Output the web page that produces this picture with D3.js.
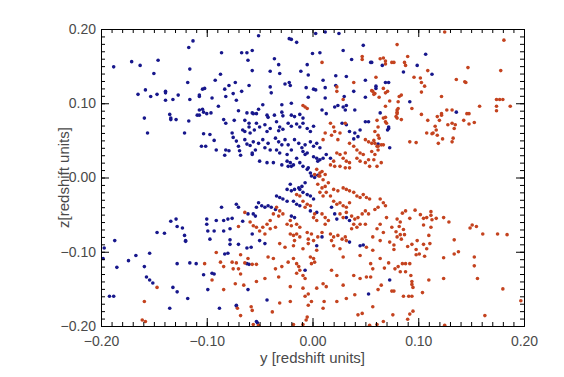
<!DOCTYPE html>
<html>
<head>
<meta charset="utf-8">
<script src="https://cdn.jsdelivr.net/npm/d3@7"></script>
<style>
body { margin: 0; background: #fff; }
svg text { font-family: "Liberation Sans", Arial, sans-serif; }
</style>
</head>
<body>
<div class="chart"></div>
<script>
var svgWidth = 564;
var svgHeight = 377;

var margin = {
  top: 29,
  right: 40,
  bottom: 51,
  left: 101
};

var width = svgWidth - margin.left - margin.right;
var height = svgHeight - margin.top - margin.bottom;

// axis ranges and labels
var yRange = [-0.2, 0.2];
var zRange = [-0.2, 0.2];
var majorTicks = [-0.2, -0.1, 0, 0.1, 0.2];
var minorTicks = d3.range(-20, 21).map(d => d / 100);
var xTitle = "y [redshift units]";
var yTitle = "z[redshift units]";

// [y, z] pairs
var bluePoints = [
  [-0.188,0.149],[-0.171,0.156],[-0.163,0.151],[-0.146,0.158],[-0.150,0.140],[-0.165,0.112],[-0.158,0.118],[-0.153,0.109],
  [-0.147,0.112],[-0.139,0.116],[-0.139,0.114],[-0.139,0.104],[-0.132,0.105],[-0.127,0.111],[-0.159,0.080],[-0.156,0.060],
  [-0.135,0.085],[-0.134,0.080],[-0.134,0.078],[-0.129,0.078],[-0.121,0.060],[-0.117,0.076],[-0.118,0.128],[-0.116,0.146],
  [-0.116,0.105],[-0.117,0.175],[-0.113,0.184],[-0.109,0.084],[-0.107,0.084],[-0.107,0.091],[-0.107,0.109],
  [-0.051,0.191],[-0.022,0.187],[-0.020,0.186],[-0.015,0.182],[0.003,0.194],[0.012,0.196],[0.025,0.194],[0.048,0.178],
  [-0.086,0.168],[-0.067,0.168],[-0.062,0.168],[-0.057,0.171],[-0.061,0.158],[-0.036,0.160],[0.000,0.167],[0.007,0.168],
  [0.029,0.171],[0.037,0.159],[0.055,0.155],[0.066,0.151],[-0.032,0.152],[-0.005,0.152],[-0.057,0.144],[-0.040,0.143],
  [-0.011,0.143],[-0.087,0.139],[-0.031,0.140],[-0.004,0.138],[0.022,0.137],[0.032,0.136],[-0.092,0.131],[0.010,0.131],
  [0.050,0.131],[-0.104,0.119],[-0.102,0.120],[-0.083,0.119],[-0.079,0.124],[-0.073,0.128],[-0.060,0.124],[-0.026,0.126],
  [-0.022,0.128],[-0.040,0.122],[-0.021,0.124],[-0.006,0.121],[0.001,0.119],[0.003,0.118],[0.012,0.121],[0.022,0.124],
  [0.039,0.116],[0.060,0.123],[0.069,0.128],[-0.107,0.111],[-0.095,0.107],[-0.082,0.109],[-0.072,0.104],[-0.075,0.113],
  [-0.067,0.116],[-0.039,0.114],[-0.004,0.108],[0.012,0.107],[0.030,0.109],[0.050,0.108],
  [-0.104,0.092],[-0.103,0.088],[-0.100,0.086],[-0.096,0.087],[-0.089,0.096],[-0.070,0.090],[-0.062,0.087],[-0.057,0.087],
  [-0.084,0.078],[-0.082,0.073],[-0.074,0.077],[-0.064,0.077],[-0.060,0.073],[-0.060,0.068],[-0.103,0.059],[-0.097,0.058],
  [-0.093,0.050],[-0.105,0.042],[-0.101,0.042],[-0.091,0.037],[-0.082,0.037],[-0.079,0.036],[-0.083,0.030],[-0.076,0.060],
  [-0.075,0.054],[-0.072,0.049],[-0.070,0.042],[-0.069,0.036],[-0.068,0.030],[-0.066,0.064],[-0.064,0.062],[-0.059,0.060],
  [-0.064,0.051],[-0.062,0.045],[-0.059,0.043],[-0.057,0.031],
  [-0.047,0.098],[-0.051,0.092],[-0.029,0.098],[-0.020,0.100],[-0.056,0.086],[-0.053,0.086],[-0.043,0.084],[-0.042,0.081],
  [-0.036,0.084],[-0.029,0.088],[-0.028,0.083],[-0.020,0.084],[-0.017,0.082],[-0.012,0.085],[-0.009,0.080],[-0.053,0.073],
  [-0.050,0.068],[-0.055,0.064],[-0.045,0.071],[-0.040,0.066],[-0.043,0.062],[-0.034,0.075],[-0.031,0.068],[-0.032,0.063],
  [-0.028,0.065],[-0.023,0.073],[-0.020,0.069],[-0.015,0.072],[-0.012,0.068],[-0.009,0.073],[-0.005,0.066],[-0.002,0.062],
  [0.001,0.069],[0.009,0.091],[0.013,0.086],[0.021,0.095],[0.024,0.097],[0.029,0.095],[0.032,0.097],[0.031,0.091],
  [0.040,0.091],[0.050,0.075],[0.053,0.075],[0.040,0.060],[0.043,0.055],[0.045,0.064],[-0.056,0.048],[-0.051,0.046],
  [-0.054,0.037],[-0.057,0.033],[-0.047,0.051],[-0.042,0.046],[-0.045,0.040],[-0.040,0.037],[-0.035,0.053],[-0.032,0.048],
  [-0.029,0.044],[-0.034,0.037],[-0.031,0.033],[-0.026,0.051],[-0.023,0.044],[-0.020,0.037],[-0.024,0.031],[-0.017,0.051],
  [-0.013,0.046],[-0.010,0.040],[-0.007,0.044],[-0.009,0.035],[-0.005,0.033],[-0.007,0.031],[-0.002,0.048],[0.001,0.042],
  [0.004,0.046],[0.007,0.040],[0.001,0.028],[0.004,0.026],[0.007,0.024],[0.010,0.026],[0.005,0.022],[-0.024,0.022],
  [-0.021,0.020],[-0.020,0.015],[-0.018,0.017],[-0.023,0.015],[-0.012,0.020],[-0.009,0.015],[-0.005,0.011],[-0.002,0.006],
  [-0.004,0.013],[-0.029,0.017],[-0.015,0.026],[-0.050,0.022],[-0.043,0.020],[-0.037,0.020],[0.013,0.031],[0.017,0.026],
  [0.035,0.062],[0.039,0.052],[0.073,0.040],[0.028,0.073],[0.032,0.071],
  [-0.001,0.002],[0.002,0.000],[0.005,0.003],[-0.007,-0.007],[-0.010,-0.012],[-0.013,-0.014],[-0.017,-0.016],[-0.020,-0.018],
  [-0.024,-0.016],[-0.012,-0.016],[-0.009,-0.020],[-0.005,-0.023],[-0.002,-0.025],[0.001,-0.029],[-0.021,-0.009],[-0.034,-0.025],
  [-0.031,-0.027],[-0.028,-0.029],[-0.024,-0.032],[-0.018,-0.032],[-0.015,-0.036],[-0.012,-0.038],[-0.051,-0.034],[-0.048,-0.038],
  [-0.053,-0.040],[-0.045,-0.040],[-0.042,-0.038],[-0.039,-0.040],[-0.035,-0.043],[-0.056,-0.049],[-0.054,-0.052],[-0.057,-0.076],
  [-0.050,-0.085],[-0.045,-0.089],[-0.020,-0.052],[-0.017,-0.054],[-0.002,-0.045],[0.004,-0.047],[0.018,-0.040],[0.021,-0.049],
  [0.023,-0.056],[0.009,-0.080],[0.004,-0.092],[0.035,-0.087],[0.045,-0.092],[0.032,-0.054],[0.035,-0.058],
  [0.056,0.155],[0.107,0.166],[0.099,0.151],[0.086,0.142],[0.113,0.139],[0.072,0.128],[0.060,0.120],[0.092,0.102],
  [0.064,0.087],[0.136,0.088],[0.072,0.068],[0.072,0.066],[0.071,0.064],[0.062,0.045],
  [-0.147,-0.074],[-0.140,-0.075],[-0.134,-0.059],[-0.129,-0.056],[-0.128,-0.066],[-0.123,-0.068],[-0.121,-0.078],[-0.120,-0.085],
  [-0.197,-0.095],[-0.198,-0.109],[-0.187,-0.085],[-0.185,-0.121],[-0.174,-0.112],[-0.167,-0.105],[-0.154,-0.102],[-0.159,-0.120],
  [-0.157,-0.134],[-0.154,-0.138],[-0.151,-0.142],[-0.192,-0.160],[-0.188,-0.160],[-0.135,-0.176],[-0.132,-0.148],[-0.128,-0.154],
  [-0.128,-0.116],[-0.116,-0.115],[-0.110,-0.116],[-0.118,-0.163],[-0.120,-0.086],[-0.103,-0.131],[-0.095,-0.129],[-0.093,-0.130],
  [-0.099,-0.151],[-0.088,-0.176],[-0.083,-0.103],[-0.080,-0.102],[-0.062,-0.116],[-0.060,-0.117],[-0.062,-0.095],[-0.058,-0.094],
  [-0.061,-0.151],[-0.072,-0.172],[-0.072,-0.173],[-0.053,-0.194],[-0.052,-0.196],[-0.070,-0.090],[-0.078,-0.090],
  [-0.086,-0.040],[-0.072,-0.036],[-0.070,-0.040],[-0.100,-0.056],[-0.100,-0.063],[-0.091,-0.058],[-0.084,-0.058],[-0.080,-0.056],
  [-0.076,-0.055],[-0.099,-0.072],[-0.093,-0.072],[-0.084,-0.072],[-0.078,-0.069],[-0.097,-0.083],[-0.078,-0.084],[-0.043,-0.165],
  [-0.007,-0.125],[0.048,-0.091],[0.053,-0.157],[0.073,-0.138],[-0.066,-0.059],[-0.061,-0.049]
];

var redPoints = [
  [0.009,0.155],[0.047,0.163],[0.047,0.159],[0.064,0.160],[0.067,0.161],[0.069,0.153],[0.039,0.128],[0.023,0.122],
  [0.023,0.116],[0.056,0.117],[0.059,0.113],[0.067,0.120],[0.069,0.114],[-0.007,0.095],[-0.005,0.093],[0.029,0.105],
  [0.125,0.196],[0.181,0.185],[0.080,0.179],[0.090,0.163],[0.087,0.155],[0.088,0.151],[0.077,0.155],[0.075,0.155],
  [0.069,0.157],[0.109,0.144],[0.096,0.135],[0.102,0.134],[0.103,0.128],[0.106,0.123],[0.103,0.115],[0.147,0.148],
  [0.178,0.144],[0.136,0.132],[0.144,0.129],[0.145,0.128],[0.060,0.135],[0.057,0.116],[0.058,0.112],[0.071,0.116],
  [0.063,0.108],[0.069,0.096],[0.073,0.103],[0.081,0.102],[0.084,0.111],[0.082,0.109],[0.080,0.091],[0.080,0.088],
  [0.079,0.082],[0.080,0.080],[0.084,0.078],[0.094,0.093],[0.103,0.085],[0.109,0.077],[0.118,0.082],[0.120,0.077],
  [0.122,0.086],[0.122,0.084],[0.127,0.091],[0.132,0.091],[0.122,0.109],[0.146,0.086],[0.148,0.086],[0.158,0.096],
  [0.174,0.105],[0.177,0.105],[0.180,0.105],[0.174,0.096],[0.174,0.090],[0.187,0.096],[0.143,0.077],[0.148,0.072],
  [0.153,0.074],[0.128,0.071],[0.132,0.073],[0.135,0.071],[0.134,0.066],[0.133,0.053],[0.132,0.048],[0.116,0.069],
  [0.117,0.064],[0.118,0.057],[0.114,0.060],[0.113,0.059],[0.108,0.060],[0.123,0.052],[0.119,0.046],[0.092,0.048],
  [0.098,0.047],[0.067,0.080],[0.069,0.075],[0.070,0.073],[0.062,0.068],[0.061,0.077],[0.059,0.062],[0.062,0.057],
  [0.063,0.053],[0.058,0.050],[0.067,0.044],[0.061,0.042],[0.056,0.035],[0.059,0.031],[0.062,0.037],[0.058,0.024],
  [-0.009,0.097],[0.017,0.073],[0.020,0.068],[0.021,0.062],[0.018,0.057],[0.031,0.073],[0.026,0.060],[0.024,0.051],
  [0.035,0.046],[0.039,0.042],[0.042,0.037],[0.045,0.033],[0.048,0.031],[0.050,0.051],[0.053,0.048],[0.056,0.046],
  [0.059,0.046],[0.062,0.042],[0.065,0.044],[0.080,0.086],[0.081,0.093],[0.023,0.033],[0.026,0.031],[0.029,0.026],
  [0.032,0.022],[0.035,0.020],[0.031,0.033],[0.042,0.026],[0.045,0.022],[0.050,0.020],[0.053,0.024],[0.020,0.022],
  [0.017,0.017],[0.021,0.015],[0.004,0.011],[0.007,0.006],[0.006,0.002],[0.009,0.008],[0.002,0.004],[0.026,0.015],
  [0.031,0.013],[0.035,0.013],[0.054,0.015],[0.061,0.015],[0.065,0.020],[0.012,0.060],[0.010,0.051],[0.069,0.081],
  [0.007,0.002],[0.010,-0.003],[0.012,0.004],[0.005,-0.009],[0.009,-0.014],[0.012,-0.012],[0.015,-0.007],[0.007,-0.020],
  [0.010,-0.025],[0.013,-0.020],[0.020,-0.016],[0.024,-0.018],[0.029,-0.014],[0.032,-0.016],[0.035,-0.018],[0.039,-0.020],
  [0.042,-0.025],[0.045,-0.027],[0.048,-0.023],[0.051,-0.027],[0.054,-0.029],[0.064,-0.029],[0.067,-0.034],[0.069,-0.038],
  [0.062,-0.040],[0.059,-0.043],[0.017,-0.025],[0.020,-0.032],[0.023,-0.036],[0.026,-0.034],[0.029,-0.038],[0.032,-0.040],
  [0.035,-0.034],[-0.015,-0.023],[-0.012,-0.025],[-0.009,-0.032],[-0.005,-0.036],[-0.002,-0.038],[-0.007,-0.040],[0.002,-0.049],
  [0.001,-0.054],[0.004,-0.058],[0.009,-0.049],[0.012,-0.054],[0.015,-0.058],[0.012,-0.063],[0.026,-0.049],[0.029,-0.054],
  [0.032,-0.047],[0.037,-0.052],[0.040,-0.056],[0.043,-0.054],[0.047,-0.049],[0.050,-0.045],[0.053,-0.049],[0.039,-0.063],
  [0.042,-0.067],[0.037,-0.069],[0.045,-0.063],[0.050,-0.063],[-0.034,-0.040],[-0.031,-0.045],[-0.028,-0.049],[-0.032,-0.052],
  [-0.037,-0.049],[-0.021,-0.058],[-0.024,-0.063],[-0.020,-0.065],[-0.015,-0.063],[-0.012,-0.067],[-0.040,-0.058],[-0.043,-0.063],
  [-0.047,-0.067],[-0.050,-0.072],[-0.045,-0.076],[-0.040,-0.069],[-0.035,-0.067],[-0.056,-0.065],[-0.053,-0.067],[-0.021,-0.076],
  [-0.018,-0.078],[-0.015,-0.076],[-0.012,-0.080],[-0.017,-0.085],[-0.005,-0.074],[-0.001,-0.076],[-0.004,-0.083],[0.001,-0.085],
  [0.005,-0.080],[0.009,-0.074],[0.017,-0.076],[0.020,-0.080],[0.018,-0.085],[0.024,-0.078],[0.028,-0.083],[0.031,-0.080],
  [0.032,-0.085],[0.061,-0.069],[0.064,-0.063],[0.067,-0.074],[0.057,-0.080],[0.070,-0.054],[0.075,-0.067],[0.080,-0.080],
  [0.073,-0.087],[-0.031,-0.089],[-0.026,-0.094],[-0.018,-0.092],[-0.009,-0.096],[-0.004,-0.089],[0.004,-0.098],[0.020,-0.092],
  [0.026,-0.096],[0.051,-0.094],[0.057,-0.098],
  [-0.076,-0.114],[-0.061,-0.109],[-0.084,-0.120],[-0.042,-0.107],[-0.037,-0.109],[-0.035,-0.123],[-0.029,-0.120],[-0.023,-0.114],
  [-0.018,-0.109],[-0.015,-0.116],[-0.013,-0.120],[-0.012,-0.125],[-0.015,-0.129],[-0.009,-0.132],[-0.007,-0.136],[-0.002,-0.107],
  [0.001,-0.109],[0.002,-0.114],[-0.001,-0.116],[-0.032,-0.134],[-0.045,-0.136],[-0.053,-0.140],[-0.073,-0.143],[-0.065,-0.145],
  [-0.021,-0.147],[-0.009,-0.149],[-0.004,-0.157],[0.004,-0.149],[0.013,-0.147],[0.010,-0.143],[0.018,-0.125],[0.023,-0.132],
  [0.029,-0.145],[0.039,-0.132],[0.045,-0.136],[0.051,-0.134],[0.057,-0.123],[-0.031,-0.169],[-0.021,-0.167],[-0.007,-0.160],
  [-0.005,-0.188],[-0.006,-0.192],[-0.018,-0.198],[-0.056,-0.198],[-0.051,-0.199],[0.043,-0.185],[0.047,-0.183],[0.057,-0.174],
  [0.067,-0.194],[0.061,-0.198],[0.023,-0.167],[0.032,-0.163],[0.040,-0.158],[0.065,-0.145],[0.029,-0.107],[0.045,-0.105],
  [0.064,-0.109],[-0.038,-0.181],[-0.009,-0.198],[-0.004,-0.172],[-0.001,-0.167],[0.011,-0.167],[0.010,-0.176],[0.054,-0.199],
  [0.125,-0.199],
  [0.085,-0.048],[0.088,-0.045],[0.092,-0.055],[0.097,-0.044],[0.102,-0.050],[0.105,-0.055],[0.108,-0.054],[0.112,-0.046],
  [0.112,-0.051],[0.113,-0.057],[0.117,-0.055],[0.124,-0.054],[0.129,-0.060],[0.105,-0.064],[0.080,-0.056],[0.083,-0.060],
  [0.082,-0.066],[0.086,-0.070],[0.079,-0.073],[0.083,-0.077],[0.084,-0.083],[0.087,-0.077],[0.112,-0.067],[0.110,-0.078],
  [0.111,-0.089],[0.108,-0.096],[0.105,-0.090],[0.099,-0.085],[0.094,-0.090],[0.090,-0.093],[0.098,-0.097],[0.098,-0.104],
  [0.077,-0.091],[0.077,-0.097],[0.064,-0.085],[0.134,-0.084],[0.124,-0.108],[0.134,-0.103],[0.138,-0.100],[0.149,-0.068],
  [0.151,-0.064],[0.155,-0.066],[0.161,-0.076],[0.175,-0.076],[0.184,-0.077],[0.153,-0.107],[0.153,-0.119],[0.156,-0.136],
  [0.180,-0.150],[0.197,-0.166],[0.163,-0.186],[0.124,-0.136],[0.110,-0.138],[0.104,-0.155],[0.094,-0.160],[0.086,-0.160],
  [0.091,-0.160],[0.075,-0.153],[0.077,-0.153],[0.062,-0.151],[0.101,-0.103],[0.106,-0.106],[0.085,-0.116],[0.088,-0.116],
  [0.092,-0.116],[0.081,-0.120],[0.078,-0.123],[0.083,-0.127],[0.088,-0.127],[0.093,-0.132],[0.094,-0.140],[0.095,-0.148],
  [0.094,-0.144],[0.068,-0.122],[0.072,-0.115],[0.055,-0.116],[0.055,-0.134],[0.076,-0.185],[0.092,-0.184],[0.095,-0.180],
  [0.090,-0.191],
  [-0.159,-0.167],[-0.161,-0.192],[-0.158,-0.194],[-0.147,-0.148],[-0.102,-0.116],[-0.091,-0.101],[-0.087,-0.114],[-0.095,-0.138],
  [-0.084,-0.151],[-0.075,-0.123],[-0.072,-0.115],[-0.070,-0.123],[-0.068,-0.104],[-0.064,-0.115],[-0.057,-0.117],[-0.053,-0.117],
  [-0.068,-0.130],[-0.071,-0.176],[-0.068,-0.186],[-0.058,-0.174],[-0.057,-0.179],[-0.064,-0.047],[-0.059,-0.060],[-0.070,-0.066]
];

var svg = d3.select(".chart")
  .append("svg")
  .attr("width", svgWidth)
  .attr("height", svgHeight);

svg.append("rect")
  .attr("width", svgWidth)
  .attr("height", svgHeight)
  .attr("fill", "#fff");

var chartGroup = svg.append("g")
  .attr("transform", `translate(${margin.left}, ${margin.top})`);

var xScale = d3.scaleLinear().domain(yRange).range([0, width]);
var yScale = d3.scaleLinear().domain(zRange).range([height, 0]);

var fmt = d3.format(".2f");

// points: blue first, red on top
chartGroup.append("g").selectAll("circle")
  .data(bluePoints)
  .enter()
  .append("circle")
  .attr("cx", d => xScale(d[0]))
  .attr("cy", d => yScale(d[1]))
  .attr("r", 1.8)
  .attr("fill", "#17178c");

chartGroup.append("g").selectAll("circle")
  .data(redPoints)
  .enter()
  .append("circle")
  .attr("cx", d => xScale(d[0]))
  .attr("cy", d => yScale(d[1]))
  .attr("r", 1.8)
  .attr("fill", "#c4431f");

// minor ticks on all four sides, pointing in
var minorAxes = [
  [d3.axisBottom(xScale), `translate(0, ${height})`],
  [d3.axisTop(xScale), "translate(0, 0)"],
  [d3.axisLeft(yScale), "translate(0, 0)"],
  [d3.axisRight(yScale), `translate(${width}, 0)`]
];
minorAxes.forEach(function(a) {
  var g = chartGroup.append("g")
    .attr("transform", a[1])
    .call(a[0].tickValues(minorTicks).tickSize(-4).tickFormat(""));
  g.select(".domain").remove();
});

// major ticks + frame
var bottomAxis = d3.axisBottom(xScale).tickValues(majorTicks).tickSize(-8).tickPadding(10).tickFormat(fmt);
var leftAxis = d3.axisLeft(yScale).tickValues(majorTicks).tickSize(-8).tickPadding(5).tickFormat(fmt);
var topAxis = d3.axisTop(xScale).tickValues(majorTicks).tickSize(-8).tickFormat("");
var rightAxis = d3.axisRight(yScale).tickValues(majorTicks).tickSize(-8).tickFormat("");

chartGroup.append("g").attr("class", "xaxis").attr("transform", `translate(0, ${height})`).call(bottomAxis);
chartGroup.append("g").attr("class", "yaxis").call(leftAxis);
chartGroup.append("g").call(topAxis);
chartGroup.append("g").attr("transform", `translate(${width}, 0)`).call(rightAxis);

chartGroup.selectAll(".domain").attr("stroke", "#000").attr("stroke-width", 1);
chartGroup.selectAll(".tick line").attr("stroke", "#000");
chartGroup.selectAll(".tick text")
  .attr("fill", "#4a4a4a")
  .style("font-size", "14px");

chartGroup.append("text")
  .attr("x", width / 2)
  .attr("y", height + 32)
  .attr("dy", "0.35em")
  .attr("text-anchor", "middle")
  .attr("fill", "#4a4a4a")
  .style("font-size", "15px")
  .text(xTitle);

chartGroup.append("text")
  .attr("transform", "rotate(-90)")
  .attr("x", 0 - (height / 2))
  .attr("y", 64 - margin.left)
  .attr("dy", "0.35em")
  .attr("text-anchor", "middle")
  .attr("fill", "#4a4a4a")
  .style("font-size", "15px")
  .text(yTitle);
</script>
</body>
</html>
